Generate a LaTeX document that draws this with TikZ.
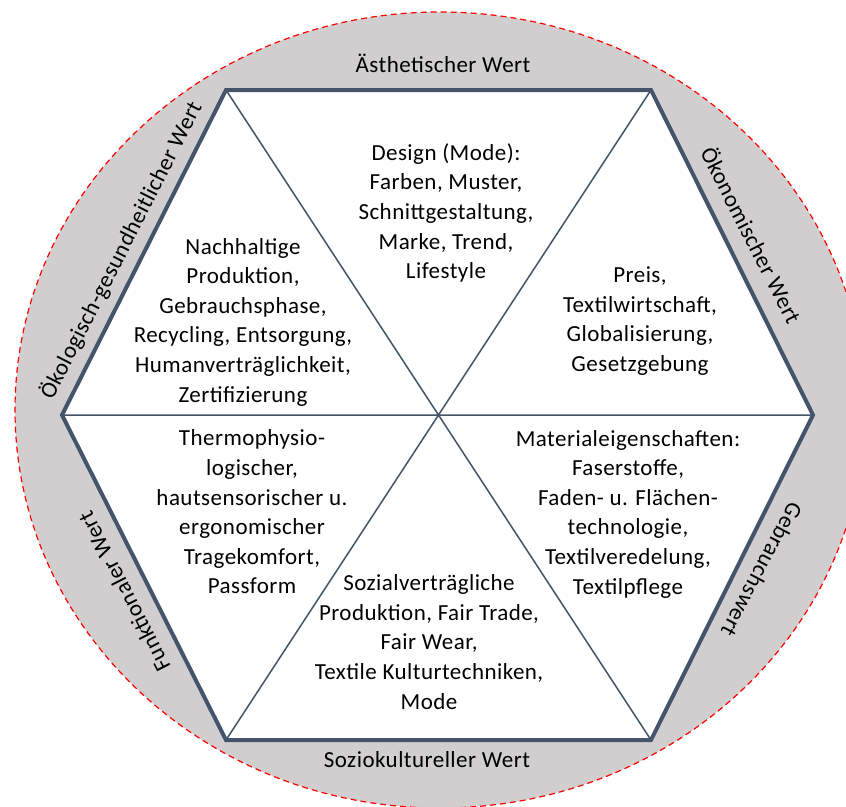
\documentclass[tikz,border=0pt]{standalone}
\usepackage{fontspec}
\setmainfont[LetterSpace=2]{Carlito}
\definecolor{hexline}{HTML}{44546A}
\definecolor{ring}{HTML}{D0CECE}

\begin{document}
\begin{tikzpicture}
[x=1pt,y=-1pt,%
  wert/.style={inner sep=0pt,font=\fontsize{23}{28}\selectfont},%
  feld/.style={inner sep=0pt,align=center,font=\fontsize{23}{29.6}\selectfont},%
  rand/.style={line width=4pt,draw=hexline,line join=miter},%
  achse/.style={line width=1.5pt,draw=hexline}]
\useasboundingbox (0,0) rectangle (846,806);
\begin{scope}
  \clip (0,0) rectangle (846,806);
  \fill[ring] (440,410) ellipse [x radius=425pt,y radius=398pt];
  \draw[red,line width=1.2pt,dash pattern=on 6pt off 4pt]
    (440,410) ellipse [x radius=425pt,y radius=398pt];
\end{scope}
\coordinate (o) at (438,415);
\coordinate (ol) at (226,90);
\coordinate (or) at (651,90);
\coordinate (r) at (813,415);
\coordinate (ur) at (651,740);
\coordinate (ul) at (226,740);
\coordinate (l) at (62,415);
\fill[white] (ol) -- (or) -- (r) -- (ur) -- (ul) -- (l) -- cycle;
\draw[achse] (l) -- (r) (ol) -- (ur) (or) -- (ul);
\draw[rand] (ol) -- (or) -- (r) -- (ur) -- (ul) -- (l) -- cycle;
\node[wert] (aesth) at (443,63) {Ästhetischer Wert};
\node[wert] (sozio) at (427,760) {Soziokultureller Wert};
\node[wert,rotate=63] (oekol) at (121,250) {Ökologisch-gesundheitlicher Wert};
\node[wert,rotate=-63] (oekon) at (752,235) {Ökonomischer Wert};
\node[wert,rotate=117] (funkt) at (124,592) {Funktionaler Wert};
\node[wert,rotate=-118] (gebr) at (762,570) {Gebrauchswert};
\node[feld] (design) at (446,213)
  {Design (Mode):\\Farben, Muster,\\Schnittgestaltung,\\Marke, Trend,\\Lifestyle};
\node[feld] (nachh) at (243,322)
  {Nachhaltige\\Produktion,\\Gebrauchsphase,\\Recycling, Entsorgung,\\Humanverträglichkeit,\\Zertifizierung};
\node[feld] (preis) at (640,321)
  {Preis,\\Textilwirtschaft,\\Globalisierung,\\Gesetzgebung};
\node[feld] (thermo) at (252,512)
  {Thermophysio-\\logischer,\\hautsensorischer u.\\ergonomischer\\Tragekomfort,\\Passform};
\node[feld] (sozial) at (429,642)
  {Sozialverträgliche\\Produktion, Fair Trade,\\Fair Wear,\\Textile Kulturtechniken,\\Mode};
\node[feld] (mater) at (628,514)
  {Materialeigenschaften:\\Faserstoffe,\\Faden- u. Flächen-\\technologie,\\Textilveredelung,\\Textilpflege};
\end{tikzpicture}
\end{document}
